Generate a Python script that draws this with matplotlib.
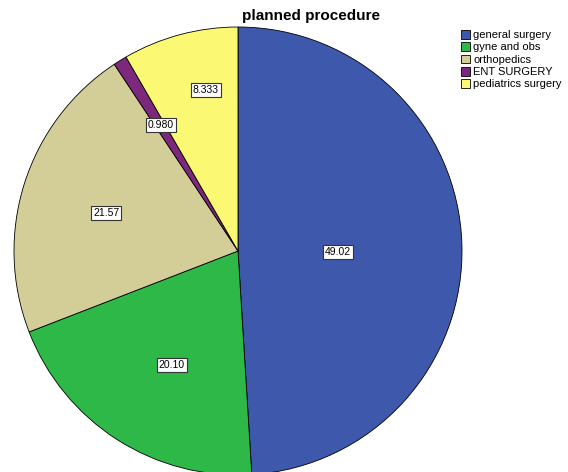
import numpy as np
import matplotlib
matplotlib.use("Agg")
import matplotlib.pyplot as plt
from matplotlib.patches import Patch

plt.rcParams['font.family'] = ['Liberation Sans', 'DejaVu Sans']

# data
categories = ['general surgery', 'gyne and obs', 'orthopedics', 'ENT SURGERY', 'pediatrics surgery']
percents = [49.02, 20.10, 21.57, 0.980, 8.333]
value_labels = ['49.02', '20.10', '21.57', '0.980', '8.333']
colors = ['#3E58AC', '#2EB848', '#D3CE97', '#7C287D', '#FBF873']

# label offsets from the centre, in radius units (layout only)
label_off = [(0.446, -0.004), (-0.295, -0.509), (-0.589, 0.170),
             (-0.344, 0.562), (-0.143, 0.719)]

fig = plt.figure(figsize=(5.68, 4.72), dpi=100)
ax = fig.add_axes([0, 0, 1, 1])

cx, cy, r = 238, 221, 224
wedges, _ = ax.pie(percents, colors=colors, startangle=90, counterclock=False,
                   center=(cx, cy), radius=r, frame=True,
                   wedgeprops=dict(edgecolor='black', linewidth=0.6))
ax.set_xlim(0, 568)
ax.set_ylim(0, 472)
ax.set_aspect('equal')
ax.axis('off')

for lab, (ox, oy) in zip(value_labels, label_off):
    ax.text(cx + ox * r, cy + oy * r, lab,
            ha='center', va='center', fontsize=7.5,
            bbox=dict(boxstyle='square,pad=0.2', fc='white', ec='#333333', lw=0.8))

ax.text(311, 456, 'planned procedure', ha='center', va='center',
        fontsize=11, fontweight='bold')

handles = [Patch(facecolor=c, edgecolor='black', linewidth=0.6) for c in colors]
fig.legend(handles, categories, loc='upper left', bbox_to_anchor=(461 / 568, 1 - 30 / 472),
           frameon=False, fontsize=8, handlelength=0.8, handleheight=0.8,
           handletextpad=0.3, labelspacing=0.2, borderaxespad=0, borderpad=0)

fig.savefig('out.png', dpi=100)
